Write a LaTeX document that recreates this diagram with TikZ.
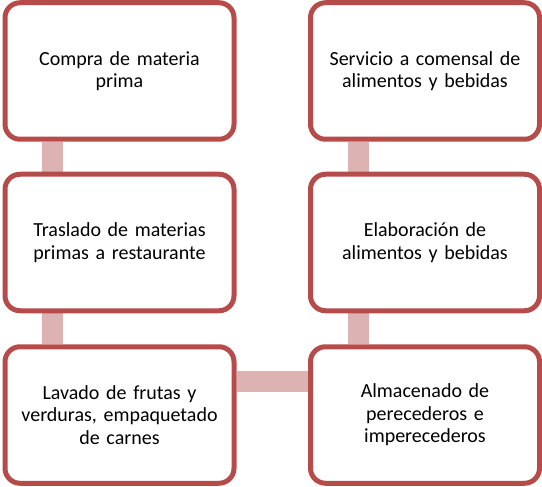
\documentclass[tikz,border=0pt]{standalone}
\usepackage{fontspec}
\setmainfont{Carlito}
\usetikzlibrary{backgrounds}
\definecolor{boxred}{HTML}{B64C4A}
\definecolor{linkpink}{HTML}{DDB2B2}
\begin{document}
\begin{tikzpicture}[x=1pt,y=-1pt,
  stepbox/.style={draw=boxred, line width=5pt, fill=white, rounded corners=15pt,
    minimum width=229pt, minimum height=136.5pt, inner sep=0pt, align=center,
    text width=215pt, font=\fontsize{20}{22.5}\selectfont},
  link/.style={linkpink, line width=21pt}]
\useasboundingbox (0,0) rectangle (542,487);
\node[stepbox] (a) at (119.5,71) {Compra de materia\\prima};
\node[stepbox] (b) at (119.5,242.5) {Traslado de materias\\primas a restaurante};
\node[stepbox] (c) at (119.5,415) {Lavado de frutas y\\verduras, empaquetado\\de carnes};
\node[stepbox] (d) at (425,415) {Almacenado de\\perecederos e\\imperecederos};
\node[stepbox] (e) at (425,242.5) {Elaboración de\\alimentos y bebidas};
\node[stepbox] (f) at (425,71) {Servicio a comensal de\\alimentos y bebidas};
\begin{scope}[on background layer]
\draw[link] ([xshift=-67pt]a.south) -- ([xshift=-67pt]b.north);
\draw[link] ([xshift=-67pt]b.south) -- ([xshift=-67pt]c.north);
\draw[link] ([yshift=34pt]c.east) -- ([yshift=34pt]d.west);
\draw[link] ([xshift=-67pt]d.north) -- ([xshift=-67pt]e.south);
\draw[link] ([xshift=-67pt]e.north) -- ([xshift=-67pt]f.south);
\end{scope}
\end{tikzpicture}
\end{document}
